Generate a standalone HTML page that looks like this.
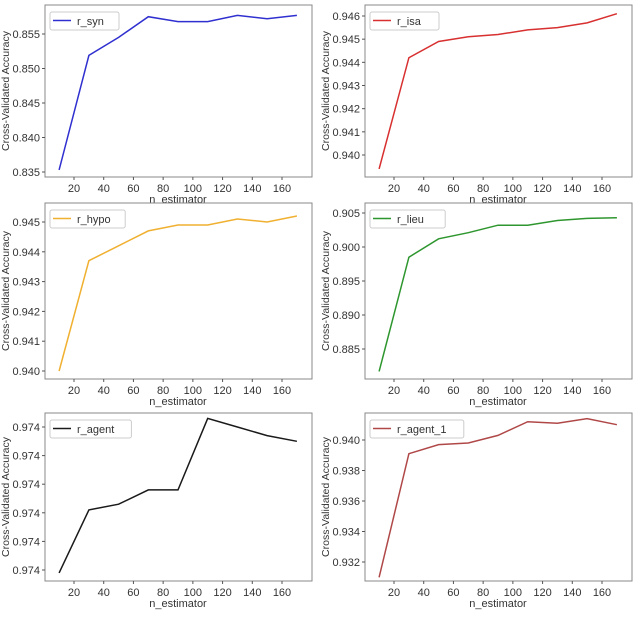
<!DOCTYPE html>
<html><head><meta charset="utf-8"><style>
body{margin:0;background:#fff;width:640px;height:612px;overflow:hidden}
svg text{font-family:"Liberation Sans",sans-serif;fill:#333}
</style></head><body>
<svg id="c" width="640" height="612" xmlns="http://www.w3.org/2000/svg"></svg>
<script>
const nEst = [10,30,50,70,90,110,130,150,170];
const xTicks = [20,40,60,80,100,120,140,160];
const synVals = [0.8353,0.8519,0.8545,0.8575,0.8568,0.8568,0.8577,0.8572,0.8577];
const isaVals = [0.9394,0.9442,0.9449,0.9451,0.9452,0.9454,0.9455,0.9457,0.9461];
const hypoVals = [0.9400,0.9437,0.9442,0.9447,0.9449,0.9449,0.9451,0.9450,0.9452];
const lieuVals = [0.8817,0.8985,0.9012,0.9021,0.9032,0.9032,0.9039,0.9042,0.9043];
const agentVals = [0.97379,0.97401,0.97403,0.97408,0.97408,0.97433,0.97430,0.97427,0.97425];
const agent1Vals = [0.9310,0.9391,0.9397,0.9398,0.9403,0.9412,0.9411,0.9414,0.9410];
const synTicks = [0.835,0.840,0.845,0.850,0.855];
const isaTicks = [0.940,0.941,0.942,0.943,0.944,0.945,0.946];
const hypoTicks = [0.940,0.941,0.942,0.943,0.944,0.945];
const lieuTicks = [0.885,0.890,0.895,0.900,0.905];
const agentTicks = [0.9738,0.9739,0.9740,0.9741,0.9742,0.9743];
const agent1Ticks = [0.932,0.934,0.936,0.938,0.940];
</script>
<script>
const NS="http://www.w3.org/2000/svg";
const svg=document.getElementById('c');
function mk(tag,attrs,parent){const e=document.createElementNS(NS,tag);for(const k in attrs)e.setAttribute(k,attrs[k]);(parent||svg).appendChild(e);return e;}
const panels=[
 {name:'syn',label:'r_syn',vals:synVals,ticks:synTicks,col:'#3030d0',ox:45,top:5,bot:177,t0:0.835,p0:172,t1:0.855,p1:34},
 {name:'isa',label:'r_isa',vals:isaVals,ticks:isaTicks,col:'#d83030',ox:365,top:5,bot:177,t0:0.940,p0:155,t1:0.946,p1:16},
 {name:'hypo',label:'r_hypo',vals:hypoVals,ticks:hypoTicks,col:'#f0b030',ox:45,top:203,bot:379,t0:0.940,p0:371,t1:0.945,p1:222},
 {name:'lieu',label:'r_lieu',vals:lieuVals,ticks:lieuTicks,col:'#2e962e',ox:365,top:203,bot:379,t0:0.885,p0:349,t1:0.905,p1:213},
 {name:'agent',label:'r_agent',vals:agentVals,ticks:agentTicks,col:'#1a1a1a',ox:45,top:413,bot:581,t0:0.9738,p0:570,t1:0.9743,p1:427},
 {name:'agent-1',label:'r_agent_1',vals:agent1Vals,ticks:agent1Ticks,col:'#b04848',ox:365,top:413,bot:581,t0:0.932,p0:562,t1:0.940,p1:440}
];
panels.forEach(p=>{
 const g=mk('g',{});
 
 
 const xs=v=>p.ox+29+(v-20)*(208/140);
 const ys=v=>p.p0+(v-p.t0)*(p.p1-p.p0)/(p.t1-p.t0);
 const box=mk('rect',{x:p.ox,y:p.top,width:267,height:p.bot-p.top,fill:'#fff',stroke:'#888','stroke-width':1},g);
 
 
 xTicks.forEach(t=>{
  const x=xs(t);
  mk('line',{x1:x,x2:x,y1:p.bot,y2:p.bot+3,stroke:'#555'},g);
  const tx=mk('text',{x:x,y:p.bot+15,'font-size':11,'text-anchor':'middle'},g);
  tx.textContent=t;
  
  
 });
 p.ticks.forEach(t=>{
  const y=ys(t);
  mk('line',{x1:p.ox-3,x2:p.ox,y1:y,y2:y,stroke:'#555'},g);
  const tx=mk('text',{x:p.ox-5,y:y+4,'font-size':11,'text-anchor':'end'},g);
  tx.textContent=t.toFixed(3);
  
  
 });
 const xl=mk('text',{x:p.ox+133,y:p.bot+26,'font-size':11,'text-anchor':'middle'},g);
 xl.textContent='n_estimator';
 
 
 const cy=(p.top+p.bot)/2;
 const yx=p.ox-36;
 const yl=mk('text',{x:yx,y:cy,'font-size':10,'text-anchor':'middle',textLength:120,lengthAdjust:'spacingAndGlyphs',transform:`rotate(-90 ${yx} ${cy})`},g);
 yl.textContent='Cross-Validated Accuracy';
 
 
 const pts=nEst.map((n,i)=>xs(n).toFixed(1)+','+ys(p.vals[i]).toFixed(1)).join(' ');
 const ln=mk('polyline',{points:pts,fill:'none',stroke:p.col,'stroke-width':1.5},g);
 
 
 const lg=mk('g',{},g);
 
 
 const w=p.label.length*6.2+38;
 mk('rect',{x:p.ox+5,y:p.top+7,width:w,height:18,fill:'#fff',stroke:'#ccc',rx:2},lg);
 mk('line',{x1:p.ox+8,x2:p.ox+26,y1:p.top+15.5,y2:p.top+15.5,stroke:p.col,'stroke-width':1.5},lg);
 const lt=mk('text',{x:p.ox+32,y:p.top+20,'font-size':11},lg);
 lt.textContent=p.label;
 
 
});
</script>
</body></html>
